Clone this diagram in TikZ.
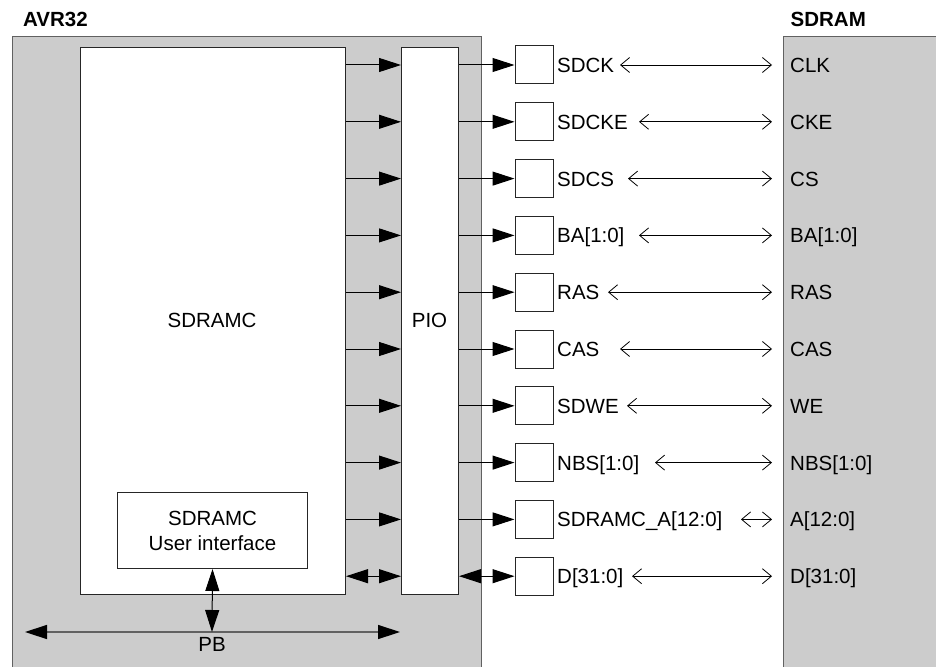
\documentclass[tikz,border=0pt]{standalone}
\usepackage{fontspec}
\setmainfont{Liberation Sans}
\usetikzlibrary{arrows.meta}
\definecolor{boxgray}{RGB}{204,204,204}
\begin{document}
\begin{tikzpicture}[x=1pt,y=-1pt,
  font=\fontsize{20.5}{25}\selectfont,
  graybox/.style={draw=black!62, line width=1.4pt, fill=boxgray, inner sep=0pt, anchor=north west},
  whitebox/.style={draw=black!85, line width=1pt, fill=white, inner sep=0pt, anchor=north west},
  pad/.style={draw=black!85, line width=1pt, fill=white, minimum width=38pt, minimum height=38pt, inner sep=0pt},
  fwd/.style={line width=1pt, -{Triangle[length=22pt,width=14pt]}},
  both/.style={line width=1pt, {Triangle[length=22pt,width=14pt]}-{Triangle[length=22pt,width=14pt]}},
  link/.style={line width=0.8pt, {Straight Barb[length=9pt,width=15pt]}-{Straight Barb[length=9pt,width=15pt]}},
  lab/.style={anchor=base west, inner sep=0pt},
  title/.style={anchor=base west, inner sep=0pt, font=\fontsize{20.5}{25}\selectfont\bfseries},
]
\useasboundingbox (0,0) rectangle (936,666);
\clip (0,0) rectangle (936,666);

% titles
\node[title] (tavr) at (23,27) {AVR32};
\node[title] (tsd) at (790.5,27) {SDRAM};

% big gray boxes
\node[graybox, minimum width=469pt, minimum height=650pt] (avr) at (12,36) {};
\node[graybox, minimum width=160pt, minimum height=650pt] (sdram) at (783,36) {};

% inner boxes
\node[whitebox, minimum width=265pt, minimum height=547pt] (sdramc) at (80,47) {};
\node[whitebox, minimum width=57pt, minimum height=547pt] (pio) at (401,47) {};
\node[inner sep=0pt] (sdramclab) at (212,320) {SDRAMC};
\node[inner sep=0pt] (piolab) at (429.5,320) {PIO};
\node[whitebox, minimum width=190pt, minimum height=76pt, align=center] (ui) at (117,492) {};
\node[align=center, inner sep=0pt] (uilab) at (ui.center) {SDRAMC\\User interface};

% PB bus
\coordinate (pbL) at (25,632);
\coordinate (pbR) at (400,632);
\coordinate (pbM) at (212,632);
\draw[line width=1.4pt, draw=black!62, {Triangle[length=22pt,width=14pt,fill=black,color=black]}-{Triangle[length=22pt,width=14pt,fill=black,color=black]}] (pbL) -- (pbR);
\draw[both] (ui.south) -- (pbM);
\node[inner sep=0pt] (pblab) at (212,644) {PB};

% rows
\foreach \i/\l/\r/\ax in {1/SDCK/CLK/620, 2/SDCKE/CKE/639, 3/SDCS/CS/628, 4/BA[1:0]/BA[1:0]/639,
    5/RAS/RAS/608, 6/CAS/CAS/620, 7/SDWE/WE/627, 8/NBS[1:0]/NBS[1:0]/655,
    9/SDRAMC\_A[12:0]/A[12:0]/741, 10/D[31:0]/D[31:0]/632} {
  \pgfmathsetmacro\y{65+56.8*(\i-1)}
  \node[pad] (pad\i) at (534,\y) {};
  \node[lab] (l\i) at (557,\y+7.4) {\l};
  \node[lab] (r\i) at (790,\y+7.4) {\r};
  \coordinate (a\i) at (\ax,\y);
  \coordinate (b\i) at (772,\y);
  \draw[link] (a\i) -- (b\i);
}
\foreach \i in {1,...,9} {
  \draw[fwd] (sdramc.east |- pad\i.center) -- (pio.west |- pad\i.center);
  \draw[fwd] (pio.east |- pad\i.center) -- (pad\i.west);
}
\draw[both] (sdramc.east |- pad10.center) -- (pio.west |- pad10.center);
\draw[both] (pio.east |- pad10.center) -- (pad10.west);
\end{tikzpicture}
\end{document}
